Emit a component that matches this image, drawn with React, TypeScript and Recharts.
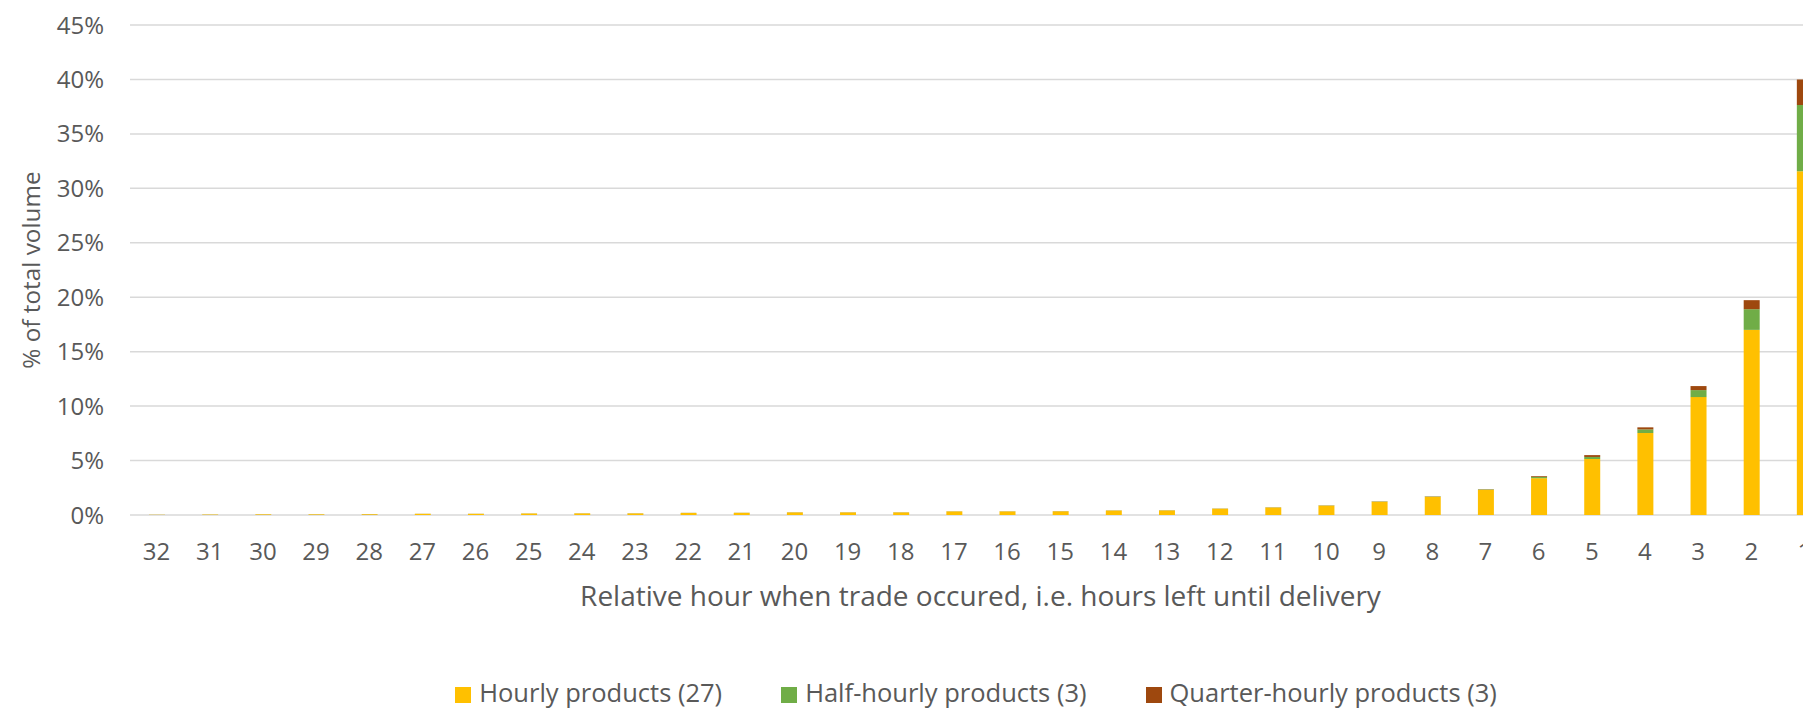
import React from 'react';
import { BarChart, Bar, XAxis, YAxis, CartesianGrid, Legend } from 'recharts';

const hours = [32, 31, 30, 29, 28, 27, 26, 25, 24, 23, 22, 21, 20, 19, 18, 17, 16, 15, 14, 13, 12, 11, 10, 9, 8, 7, 6, 5, 4, 3, 2, 1];
const hourly = [0.02, 0.04, 0.06, 0.06, 0.07, 0.11, 0.11, 0.14, 0.15, 0.15, 0.19, 0.2, 0.24, 0.24, 0.24, 0.33, 0.33, 0.34, 0.41, 0.42, 0.58, 0.69, 0.86, 1.22, 1.67, 2.32, 3.38, 5.14, 7.53, 10.83, 17.0, 31.57];
const halfHourly = [0.004, 0.005, 0.005, 0.006, 0.006, 0.006, 0.007, 0.007, 0.007, 0.008, 0.008, 0.008, 0.009, 0.009, 0.009, 0.01, 0.01, 0.01, 0.012, 0.013, 0.014, 0.015, 0.02, 0.025, 0.03, 0.04, 0.12, 0.19, 0.33, 0.64, 1.9, 6.09];
const quarterHourly = [0.003, 0.003, 0.003, 0.003, 0.004, 0.004, 0.004, 0.004, 0.005, 0.005, 0.005, 0.005, 0.006, 0.006, 0.006, 0.006, 0.007, 0.007, 0.008, 0.008, 0.009, 0.01, 0.012, 0.015, 0.02, 0.02, 0.07, 0.17, 0.19, 0.37, 0.83, 2.34];
const yTicks = [0, 5, 10, 15, 20, 25, 30, 35, 40, 45];
const seriesNames = ['Hourly products (27)', 'Half-hourly products (3)', 'Quarter-hourly products (3)'];
const seriesColors = ['#FFC000', '#70AD47', '#9E480E'];
const xTitle = 'Relative hour when trade occured, i.e. hours left until delivery';
const yTitle = '% of total volume';

const data = hours.map((h, i) => ({
  hour: String(h),
  hourly: hourly[i],
  half: halfHourly[i],
  quarter: quarterHourly[i],
}));

const FONT = '"Open Sans", sans-serif';
const TEXT = '#595959';

const renderLegend = (props: any) => {
  const payload = [...(props.payload || [])].sort(
    (a: any, b: any) => seriesNames.indexOf(a.value) - seriesNames.indexOf(b.value)
  );
  return (
    <div
      style={{
        display: 'flex',
        justifyContent: 'center',
        height: 30,
        fontFamily: FONT,
        fontSize: 25.5,
        color: TEXT,
        lineHeight: '30px',
        whiteSpace: 'nowrap',
      }}
    >
      {payload.map((e: any, i: number) => (
        <div key={i} style={{ display: 'flex', alignItems: 'flex-start', marginLeft: i ? 59 : 0 }}>
          <span
            style={{
              width: 16,
              height: 16,
              background: e.color,
              marginTop: 10,
              marginRight: 8,
              display: 'inline-block',
              flex: 'none',
            }}
          />
          <span>{e.value}</span>
        </div>
      ))}
    </div>
  );
};

const XTitle = (props: any) => {
  const vb = props.viewBox || {};
  return (
    <text
      x={vb.x + vb.width / 2}
      y={vb.y + 90.7}
      textAnchor="middle"
      fontFamily={FONT}
      fontSize={28}
      fill={TEXT}
    >
      {xTitle}
    </text>
  );
};

const YTitle = (props: any) => {
  const vb = props.viewBox || {};
  const cx = vb.x + 32;
  const cy = vb.y + vb.height / 2;
  return (
    <text
      x={cx}
      y={cy}
      transform={`rotate(-90 ${cx} ${cy})`}
      textAnchor="middle"
      fontFamily={FONT}
      fontSize={24.3}
      fill={TEXT}
    >
      {yTitle}
    </text>
  );
};

export default function App() {
  return (
    <div style={{ width: 1803, height: 700, overflow: 'hidden', position: 'relative', background: '#fff' }}>
      <BarChart
        width={1840}
        height={700}
        data={data}
        margin={{ top: 17, right: 17, bottom: 43, left: 0 }}
      >
        <CartesianGrid vertical={false} stroke="#D9D9D9" strokeWidth={1.5} />
        <XAxis
          dataKey="hour"
          type="category"
          interval={0}
          tickLine={false}
          axisLine={false}
          tickMargin={22}
          height={120}
          tick={{ fontFamily: FONT, fontSize: 24, fill: TEXT }}
          label={<XTitle />}
        />
        <YAxis
          width={122}
          domain={[0, 45]}
          ticks={yTicks}
          tickFormatter={(v: number) => `${v}%`}
          tickLine={false}
          axisLine={false}
          tickMargin={20}
          tick={{ fontFamily: FONT, fontSize: 24, fill: TEXT }}
          label={<YTitle />}
          allowDataOverflow
        />
        <Legend
          verticalAlign="bottom"
          content={renderLegend}
          wrapperStyle={{ top: 669, left: 0, width: 1936, height: 30 }}
        />
        <Bar dataKey="hourly" name={seriesNames[0]} stackId="a" fill={seriesColors[0]} barSize={16} isAnimationActive={false} />
        <Bar dataKey="half" name={seriesNames[1]} stackId="a" fill={seriesColors[1]} barSize={16} isAnimationActive={false} />
        <Bar dataKey="quarter" name={seriesNames[2]} stackId="a" fill={seriesColors[2]} barSize={16} isAnimationActive={false} />
      </BarChart>
    </div>
  );
}
